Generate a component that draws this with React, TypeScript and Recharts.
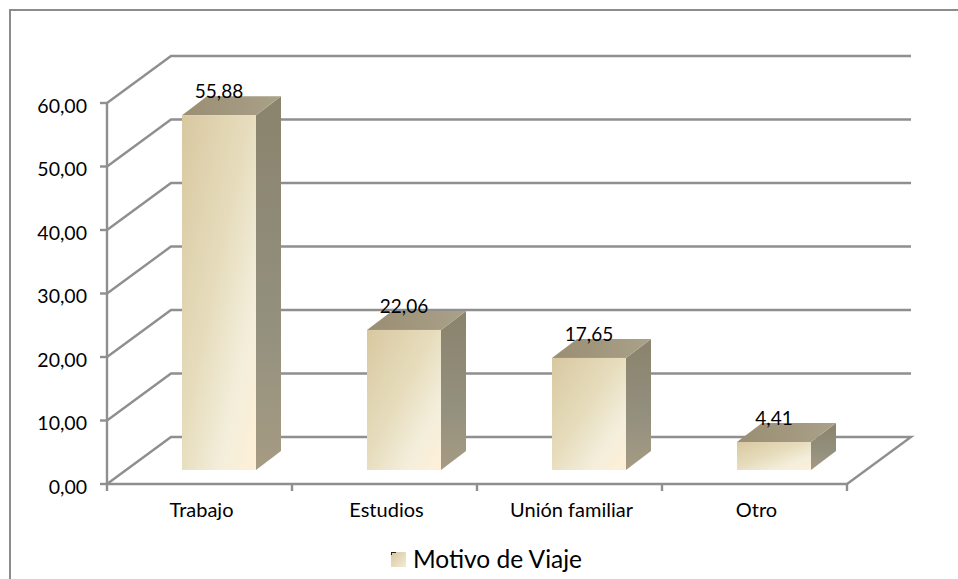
import { BarChart, Bar, XAxis, YAxis, CartesianGrid, Legend, LabelList } from 'recharts';

const categories = ['Trabajo', 'Estudios', 'Unión familiar', 'Otro'];
const values = [55.88, 22.06, 17.65, 4.41];
const yTicks = [0, 10, 20, 30, 40, 50, 60];
const seriesName = 'Motivo de Viaje';

const data = categories.map((category, i) => ({ category, value: values[i] }));

const FONT = 'Lato, "Open Sans", sans-serif';
const LINE = '#8f8f8f';
const LINE_W = 2.4;
const WIDTH = 958;
const HEIGHT = 579;
const PLOT = { left: 107, right: 847, top: 103, bottom: 484 };
const BAND = (PLOT.right - PLOT.left) / categories.length;
const LEGEND_H = 30;

// depth of the floor and of the bars
const WALL_DX = 64;
const WALL_DY = 47;
const BAR_SHIFT_X = 19;
const BAR_SHIFT_Y = 14;
const BAR_DX = 25;
const BAR_DY = 19;

const fmt = (v: number, digits = 2) => v.toFixed(digits).replace('.', ',');

function WallLine(props: any) {
  const { x1, x2, y1, index } = props;
  const isFloor = y1 >= PLOT.bottom - 1;
  const bx = x1 + WALL_DX;
  const by = y1 - WALL_DY;
  return (
    <g key={index}>
      <polyline
        points={`${x1},${y1} ${bx},${by} ${x2 + WALL_DX},${by}` + (isFloor ? ` ${x2},${y1}` : '')}
        fill="none"
        stroke={LINE}
        strokeWidth={LINE_W}
      />
    </g>
  );
}

function Bar3D(props: any) {
  const { x, y, width, height } = props;
  const fx = x + BAR_SHIFT_X;
  const fy = y - BAR_SHIFT_Y;
  const bottom = fy + height;
  return (
    <g>
      <path
        d={`M${fx + width},${fy} l${BAR_DX},${-BAR_DY} V${bottom - BAR_DY} l${-BAR_DX},${BAR_DY} Z`}
        fill="url(#sideFill)"
      />
      <path
        d={`M${fx},${fy} l${BAR_DX},${-BAR_DY} h${width} l${-BAR_DX},${BAR_DY} Z`}
        fill="url(#topFill)"
      />
      <rect x={fx} y={fy} width={width} height={height} fill="url(#frontFill)" />
    </g>
  );
}

function ValueLabel(props: any) {
  const { x, y, width, value } = props;
  return (
    <text
      x={x + BAR_SHIFT_X + width / 2}
      y={y - BAR_SHIFT_Y - 17}
      textAnchor="middle"
      fontFamily={FONT}
      fontSize={19}
      fill="#000"
    >
      {fmt(value)}
    </text>
  );
}

function CategoryTick(props: any) {
  const { x, payload, index } = props;
  const tickX = x - BAND / 2;
  return (
    <g>
      <line x1={tickX} x2={tickX} y1={PLOT.bottom} y2={PLOT.bottom + 7} stroke={LINE} strokeWidth={LINE_W} />
      {index === categories.length - 1 && (
        <line x1={tickX + BAND} x2={tickX + BAND} y1={PLOT.bottom} y2={PLOT.bottom + 7} stroke={LINE} strokeWidth={LINE_W} />
      )}
      <text x={x + 2} y={PLOT.bottom + 33} textAnchor="middle" fontFamily={FONT} fontSize={20} fill="#000">
        {payload.value}
      </text>
    </g>
  );
}

function LegendBox() {
  return (
    <div
      style={{
        display: 'flex',
        alignItems: 'center',
        justifyContent: 'center',
        fontFamily: FONT,
        fontSize: 24.5,
        color: '#000',
        height: LEGEND_H,
        lineHeight: `${LEGEND_H}px`,
      }}
    >
      <svg width={15} height={15} style={{ marginRight: 7 }}>
        <rect width={15} height={15} fill="url(#legendFill)" />
        <path d="M0,0 H5 V1 H1 V3 H0 Z" fill="#222" />
      </svg>
      {seriesName}
    </div>
  );
}

export default function App() {
  return (
    <div style={{ width: WIDTH, height: HEIGHT, position: 'relative', overflow: 'hidden', background: '#fff' }}>
      <style>{'body{margin:0}'}</style>
      {/* chart frame, only the top and left edges are inside the picture */}
      <div
        style={{
          position: 'absolute',
          left: 9,
          top: 9,
          width: WIDTH,
          height: HEIGHT,
          borderTop: '2px solid #8c8c8c',
          borderLeft: '2px solid #8c8c8c',
          boxSizing: 'border-box',
        }}
      />
      <BarChart
        width={WIDTH}
        height={HEIGHT}
        data={data}
        barSize={74}
        margin={{ left: 0, right: WIDTH - PLOT.right, top: PLOT.top, bottom: 0 }}
        style={{ position: 'absolute', left: 0, top: 0 }}
      >
        <defs>
          <linearGradient id="frontFill" x1="0" y1="0" x2="1" y2="1">
            <stop offset="0" stopColor="#d8c8a0" />
            <stop offset="0.45" stopColor="#e6dcbc" />
            <stop offset="0.75" stopColor="#f3eedb" />
            <stop offset="1" stopColor="#fff0d6" />
          </linearGradient>
          <linearGradient id="sideFill" x1="0" y1="0" x2="0" y2="1">
            <stop offset="0" stopColor="#8a836d" />
            <stop offset="0.6" stopColor="#93907e" />
            <stop offset="1" stopColor="#a69b83" />
          </linearGradient>
          <linearGradient id="topFill" x1="0" y1="0" x2="1" y2="0">
            <stop offset="0" stopColor="#9a8e73" />
            <stop offset="1" stopColor="#a9a189" />
          </linearGradient>
          <linearGradient id="legendFill" x1="0" y1="0" x2="1" y2="1">
            <stop offset="0" stopColor="#d8c8a0" />
            <stop offset="1" stopColor="#f3ebd4" />
          </linearGradient>
        </defs>
        <CartesianGrid vertical={false} horizontal={WallLine} />
        <XAxis
          dataKey="category"
          height={HEIGHT - PLOT.bottom - LEGEND_H}
          axisLine={{ stroke: LINE, strokeWidth: LINE_W }}
          tickLine={false}
          tick={CategoryTick}
          interval={0}
        />
        <YAxis
          type="number"
          domain={[0, 60]}
          ticks={yTicks}
          width={PLOT.left}
          axisLine={{ stroke: LINE, strokeWidth: LINE_W }}
          tickLine={{ stroke: LINE, strokeWidth: LINE_W }}
          tickSize={7}
          tickMargin={13}
          tickFormatter={(v: number) => fmt(v)}
          tick={{ fontFamily: FONT, fontSize: 19.5, fill: '#000', dy: 3 }}
        />
        <Legend content={LegendBox} verticalAlign="bottom" wrapperStyle={{ left: 0, width: WIDTH + 15, bottom: 5 }} />
        <Bar dataKey="value" name={seriesName} shape={Bar3D} isAnimationActive={false}>
          <LabelList dataKey="value" content={ValueLabel} />
        </Bar>
      </BarChart>
    </div>
  );
}
